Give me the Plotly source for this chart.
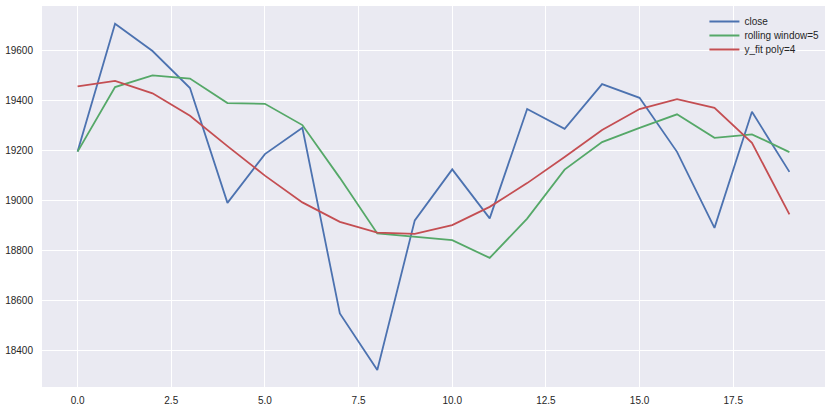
import plotly.graph_objects as go

x_vals = list(range(20))
close = [19195, 19706, 19597, 19449, 18990, 19185, 19290, 18548, 18322, 18920,
         19124, 18928, 19365, 19286, 19465, 19410, 19194, 18890, 19354, 19114]
rolling5 = [19195, 19453, 19500, 19487, 19389, 19386, 19301, 19090, 18868, 18853,
            18841, 18770, 18927, 19123, 19233, 19290, 19344, 19250, 19264, 19193]
yfit4 = [19456, 19478, 19428, 19338, 19217, 19099, 18992, 18914, 18871, 18866,
         18901, 18974, 19069, 19173, 19281, 19365, 19405, 19370, 19230, 18944]

x_ticks = [0, 2.5, 5, 7.5, 10, 12.5, 15, 17.5]
x_tick_labels = ["0.0", "2.5", "5.0", "7.5", "10.0", "12.5", "15.0", "17.5"]
y_ticks = [18400, 18600, 18800, 19000, 19200, 19400, 19600]
y_tick_labels = ["18400", "18600", "18800", "19000", "19200", "19400", "19600"]

fig = go.Figure()
fig.add_trace(go.Scatter(x=x_vals, y=close, mode="lines", name="close",
                         line=dict(color="#4C72B0", width=1.8), legend="legend"))
fig.add_trace(go.Scatter(x=x_vals, y=rolling5, mode="lines", name="rolling window=5",
                         line=dict(color="#55A868", width=1.8), legend="legend2"))
fig.add_trace(go.Scatter(x=x_vals, y=yfit4, mode="lines", name="y_fit poly=4",
                         line=dict(color="#C44E52", width=1.8), legend="legend3"))

leg_common = dict(x=0.846, xanchor="left", yanchor="top",
                  bgcolor="rgba(0,0,0,0)", font=dict(size=10, color="#262626"),
                  itemwidth=30)

fig.update_layout(
    width=830, height=410,
    margin=dict(l=42, r=5, t=6, b=23),
    paper_bgcolor="white",
    plot_bgcolor="#EAEAF2",
    font=dict(family="Liberation Sans, Arial, sans-serif", size=10, color="#262626"),
    showlegend=True,
    legend=dict(y=0.9974, **leg_common),
    legend2=dict(y=0.9606, **leg_common),
    legend3=dict(y=0.9239, **leg_common),
    xaxis=dict(range=[-0.95, 19.95], tickvals=x_ticks, ticktext=x_tick_labels,
               showgrid=True, gridcolor="white", gridwidth=1, zeroline=False,
               showline=False, ticks="", ticklabelstandoff=6),
    yaxis=dict(range=[18254, 19777], tickvals=y_ticks, ticktext=y_tick_labels,
               showgrid=True, gridcolor="white", gridwidth=1, zeroline=False,
               showline=False, ticks="", ticklabelstandoff=8),
)

fig.write_html("out.html", config={"displayModeBar": False},
               post_script="document.body.style.margin='0';document.body.style.padding='0';")
